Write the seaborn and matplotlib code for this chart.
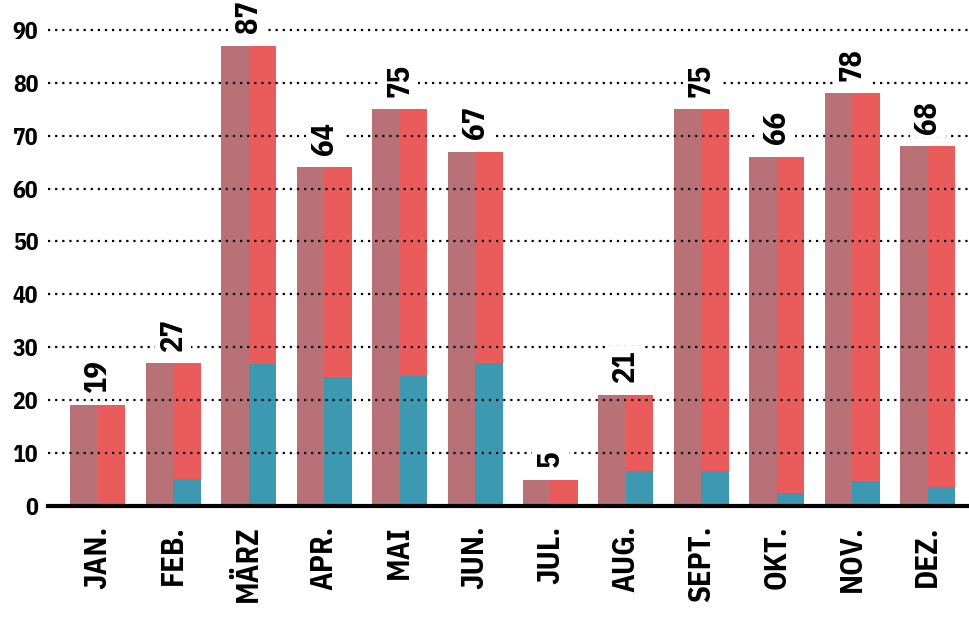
import pandas as pd
import seaborn as sns
from matplotlib import pyplot as plt

months = ["JAN.", "FEB.", "MÄRZ", "APR.", "MAI", "JUN.", "JUL.", "AUG.", "SEPT.", "OKT.", "NOV.", "DEZ."]
totals = [19, 27, 87, 64, 75, 67, 5, 21, 75, 66, 78, 68]
teal_part = [0, 5.1, 26.8, 24.4, 24.6, 27.0, 0, 6.6, 6.6, 2.5, 4.7, 3.6]

c_mauve = "#b87177"
c_red = "#ea5b5b"
c_teal = "#3c99b1"

sns.set_theme(style="white")
plt.rcParams["font.family"] = ["IBM Plex Sans Condensed", "DejaVu Sans"]
plt.rcParams["font.weight"] = "bold"

# two side-by-side bars per month; the right one carries the teal share at its base
full = pd.DataFrame({
    "monat": months * 2,
    "wert": totals + totals,
    "reihe": ["a"] * 12 + ["b"] * 12,
})
inner = pd.DataFrame({
    "monat": months * 2,
    "wert": [0] * 12 + teal_part,
    "reihe": ["a"] * 12 + ["b"] * 12,
})

fig = plt.figure(figsize=(9.7, 6.19), dpi=100)
ax = fig.add_axes([48 / 970, 113 / 619, 1 - 48 / 970, 506 / 619])

sns.barplot(data=full, x="monat", y="wert", hue="reihe", order=months, hue_order=["a", "b"],
            palette={"a": c_mauve, "b": c_red}, width=0.73, gap=0, dodge=True, saturation=1,
            linewidth=0, legend=False, ax=ax, errorbar=None)
sns.barplot(data=inner, x="monat", y="wert", hue="reihe", order=months, hue_order=["a", "b"],
            palette={"a": c_mauve, "b": c_teal}, width=0.73, gap=0, dodge=True, saturation=1,
            linewidth=0, legend=False, ax=ax, errorbar=None)

for i, v in enumerate(totals):
    ax.annotate(str(v), xy=(i, v), xytext=(0, 9), textcoords="offset points",
                rotation=90, ha="center", va="bottom", fontsize=22, fontweight="bold",
                color="black", zorder=4,
                bbox=dict(boxstyle="square,pad=0.12", fc="white", ec="none"))

ax.set_xlim(-0.66, 11.56)
ax.set_ylim(0, 95.65)
ax.set_yticks(range(0, 100, 10))
ax.set_axisbelow(False)
ax.yaxis.grid(True, color="black", linestyle=(0, (1, 2.2)), linewidth=1.6)
ax.xaxis.grid(False)

for s in ["top", "right", "left"]:
    ax.spines[s].set_visible(False)
ax.spines["bottom"].set_color("black")
ax.spines["bottom"].set_linewidth(3)
ax.spines["bottom"].set_zorder(5)

ax.tick_params(axis="y", length=0, pad=7, labelsize=17)
ax.tick_params(axis="x", length=0, pad=14, labelsize=22, rotation=90)
for lab in ax.get_xticklabels() + ax.get_yticklabels():
    lab.set_fontweight("bold")
    lab.set_color("black")

ax.set_xlabel("")
ax.set_ylabel("")

fig.savefig("out.png", dpi=100)
